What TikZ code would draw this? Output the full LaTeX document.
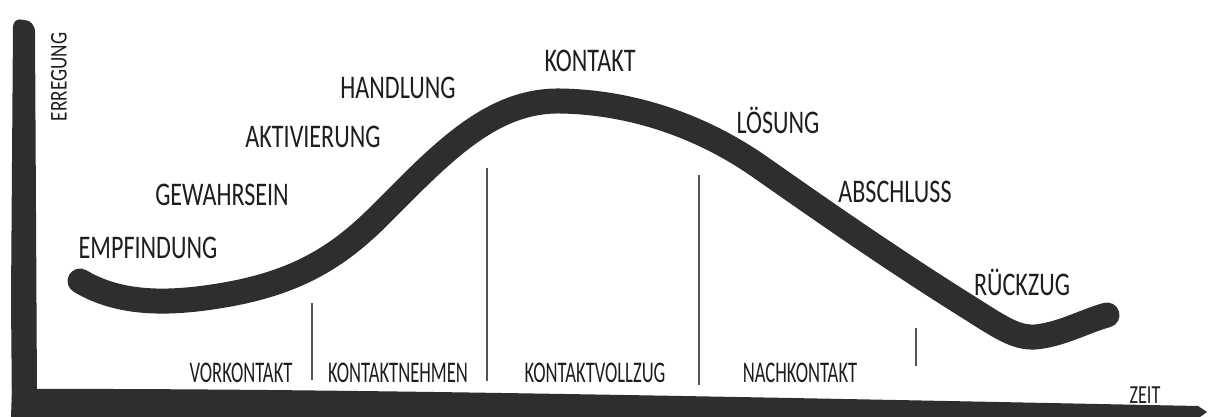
\documentclass[tikz,border=0pt]{standalone}
\usepackage{fontspec}
\setmainfont{Carlito}
\definecolor{ink}{HTML}{2E2E30}
\definecolor{txt}{HTML}{1E1E1E}
\definecolor{rule}{HTML}{555555}
\newcommand\hwtext[2][0.73]{\scalebox{#1}[1]{#2}}
\tikzset{
  big/.style={text=txt, inner sep=0pt, font=\fontsize{33}{33}\selectfont},
  small/.style={text=txt, inner sep=0pt, font=\fontsize{30}{30}\selectfont},
  divider/.style={draw=rule, line width=1.2pt},
  brush/.style={draw=ink, line width=25pt, line join=round},
}
\begin{document}
\begin{tikzpicture}[x=1pt,y=-1pt]
\useasboundingbox[fill=white] (0,0) rectangle (1209,417);
% axes
\fill[ink, rounded corners=3pt] (13,24) -- (17,19) -- (30,21) -- (35,28) -- (37,395) -- (12,417) -- (11,300) -- cycle;
\fill[ink] (12,389) .. controls (300,388) and (700,396) .. (1198,406) -- (1207,412) -- (1200,417) -- (11,417) -- cycle;
% curve
\draw[brush, line cap=round] (80,281) .. controls (120,305) and (170,305) .. (230,294)
  .. controls (300,281) and (340,255) .. (380,215)
  .. controls (440,155) and (490,100) .. (560,101)
  .. controls (630,102) and (700,125) .. (760,167)
  .. controls (820,209) and (890,258) .. (965,305)
  .. controls (1000,327) and (1015,338) .. (1035,337)
  .. controls (1060,335) and (1085,321) .. (1107,315);
% dividers
\coordinate (d1t) at (312,303); \coordinate (d1b) at (312,380);
\coordinate (d2t) at (487,168); \coordinate (d2b) at (487,381);
\coordinate (d3t) at (699,175); \coordinate (d3b) at (699,385);
\coordinate (d4t) at (916,328); \coordinate (d4b) at (916,366);
\draw[divider] (d1t) -- (d1b);
\draw[divider] (d2t) -- (d2b);
\draw[divider] (d3t) -- (d3b);
\draw[divider] (d4t) -- (d4b);
% labels
\node[text=txt, inner sep=0pt, font=\fontsize{24}{24}\selectfont, rotate=90] (erregung) at (59,77) {\hwtext[0.8]{ERREGUNG}};
\node[big] (empf) at (148,248) {\hwtext{EMPFINDUNG}};
\node[big] (gew) at (222,195) {\hwtext{GEWAHRSEIN}};
\node[big] (akt) at (313,137) {\hwtext{AKTIVIERUNG}};
\node[big] (hand) at (398,88) {\hwtext{HANDLUNG}};
\node[big] (kont) at (590,61) {\hwtext{KONTAKT}};
\node[big] (loes) at (778,120) {\hwtext{LÖSUNG}};
\node[big] (absch) at (895,192) {\hwtext{ABSCHLUSS}};
\node[big] (rueck) at (1022,282) {\hwtext{RÜCKZUG}};
\node[small] (vork) at (241,373) {\hwtext[0.62]{VORKONTAKT}};
\node[small] (kn) at (398,373) {\hwtext[0.62]{KONTAKTNEHMEN}};
\node[small] (kv) at (595,373) {\hwtext[0.62]{KONTAKTVOLLZUG}};
\node[small] (nk) at (800,373) {\hwtext[0.62]{NACHKONTAKT}};
\node[text=txt, inner sep=0pt, font=\fontsize{26}{26}\selectfont] (zeit) at (1145,395) {\hwtext[0.7]{ZEIT}};
\end{tikzpicture}
\end{document}
